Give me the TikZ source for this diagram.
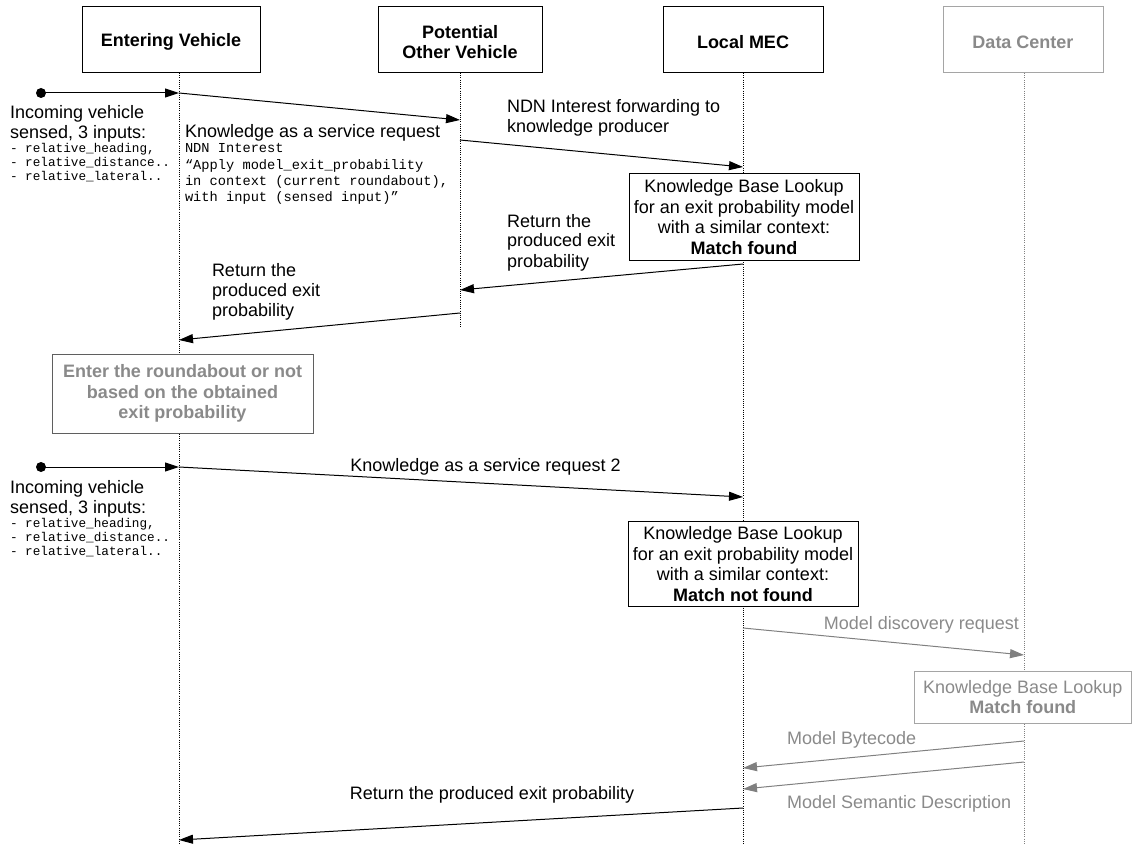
\documentclass[tikz,border=0pt]{standalone}
\usepackage{fontspec}
\setmainfont{Liberation Sans}
\setmonofont{Liberation Mono}
\usetikzlibrary{arrows.meta}
\definecolor{gtext}{RGB}{138,138,138}
\definecolor{gline}{RGB}{128,128,128}
\definecolor{gbox}{RGB}{165,165,165}
\definecolor{rbox}{RGB}{95,95,95}
\begin{document}
\begin{tikzpicture}[x=1pt,y=-1pt,
  every node/.style={inner sep=0pt, outer sep=0pt},
  sans/.style={font=\fontsize{18}{20.5}\selectfont},
  monoS/.style={font=\ttfamily\fontsize{12.7}{14}\selectfont},
  monoL/.style={font=\ttfamily\fontsize{13.7}{16.3}\selectfont},
  head/.style={draw=black, line width=1pt, fill=white, minimum height=66pt},
  headtext/.style={align=center, yshift=-2pt, font=\fontsize{18}{20}\selectfont\bfseries},
  kbbox/.style={draw=black, line width=1pt, fill=white, align=center,
    font=\fontsize{18}{20.5}\selectfont},
  lifeline/.style={line width=1pt, dash pattern=on 1pt off 1.2pt},
  msg/.style={line width=1pt, -{Triangle[length=14pt,width=9pt]}},
  gmsg/.style={msg, draw=gline, color=gline},
  startdot/.style={circle, fill=black, minimum size=10pt}
]
\useasboundingbox (0,0) rectangle (1132,845);

% participants
\node[head, minimum width=178pt, label={[headtext]center:Entering Vehicle}] (ev) at (171,40) {};
\node[head, minimum width=164pt, label={[headtext]center:Potential\\Other Vehicle}] (pov) at (460,40) {};
\node[head, minimum width=160pt, label={[headtext]center:Local MEC}] (mec) at (743,40) {};
\node[head, minimum width=160pt, draw=gbox, label={[headtext, text=gtext]center:Data Center}] (dc) at (1023,40) {};

% lifeline ends
\coordinate (evEnd) at (179,845);
\coordinate (povEnd) at (460,327);
\coordinate (mecEnd) at (743,845);
\coordinate (dcEnd) at (1024,845);
\draw[lifeline] (ev.south -| evEnd) -- (evEnd);
\draw[lifeline] (pov.south -| povEnd) -- (povEnd);
\draw[lifeline] (mec.south -| mecEnd) -- (mecEnd);
\draw[lifeline, draw=gline] (dc.south -| dcEnd) -- (dcEnd);

% boxes on lifelines
\node[kbbox, minimum width=230pt, minimum height=87pt] (kb1) at (744,217)
  {Knowledge Base Lookup\\for an exit probability model\\with a similar context:\\\textbf{Match found}};
\node[kbbox, minimum width=230pt, minimum height=85pt] (kb2) at (743,564)
  {Knowledge Base Lookup\\for an exit probability model\\with a similar context:\\\textbf{Match not found}};
\node[kbbox, draw=gbox, text=gtext, minimum width=217pt, minimum height=52pt] (kb3) at (1022.75,697)
  {Knowledge Base Lookup\\\textbf{Match found}};
\node[kbbox, draw=rbox, text=gtext, font=\fontsize{18}{20.5}\selectfont\bfseries,
  minimum width=261pt, minimum height=79pt] (rb) at (182.5,393.5)
  {Enter the roundabout or not\\based on the obtained\\exit probability};

% message end points
\node[startdot] (d1) at (41,93) {};
\coordinate (m1e) at (179,93);
\coordinate (m2s) at (179,93);
\coordinate (m2e) at (460,120);
\coordinate (m3s) at (460,140);
\coordinate (m3e) at (743,167);
\coordinate (m4s) at (743,264);
\coordinate (m4e) at (460,290);
\coordinate (m5s) at (460,313);
\coordinate (m5e) at (179,340);
\node[startdot] (d2) at (41,467) {};
\coordinate (m6e) at (179,467);
\coordinate (m7s) at (179,467);
\coordinate (m7e) at (743,497);
\coordinate (m8s) at (743,628);
\coordinate (m8e) at (1024,655);
\coordinate (m9s) at (1024,741);
\coordinate (m9e) at (743,768);
\coordinate (m10s) at (1024,762);
\coordinate (m10e) at (743,789);
\coordinate (m11s) at (743,808);
\coordinate (m11e) at (179,840);

\draw[msg] (d1.center) -- (m1e);
\draw[msg] (m2s) -- (m2e);
\draw[msg] (m3s) -- (m3e);
\draw[msg] (m4s) -- (m4e);
\draw[msg] (m5s) -- (m5e);
\draw[msg] (d2.center) -- (m6e);
\draw[msg] (m7s) -- (m7e);
\draw[gmsg] (m8s) -- (m8e);
\draw[gmsg] (m9s) -- (m9e);
\draw[gmsg] (m10s) -- (m10e);
\draw[msg] (m11s) -- (m11e);

% texts block 1
\node[sans, anchor=base west] (a1) at (10,119) {Incoming vehicle};
\node[sans, anchor=base west] (a2) at (10,139) {sensed, 3 inputs:};
\node[monoS, anchor=base west] (a3) at (10,153) {- relative\_heading,};
\node[monoS, anchor=base west] (a4) at (10,167) {- relative\_distance..};
\node[monoS, anchor=base west] (a5) at (10,181) {- relative\_lateral..};

\node[sans, anchor=base west] (b1) at (185,138) {Knowledge as a service request};
\node[monoL, anchor=base west] (b2) at (185,153) {NDN Interest};
\node[monoL, anchor=base west] (b3) at (185,169.3) {“Apply model\_exit\_probability};
\node[monoL, anchor=base west] (b4) at (185,185.6) {in context (current roundabout),};
\node[monoL, anchor=base west] (b5) at (185,202) {with input (sensed input)”};

\node[sans, anchor=base west] (c1) at (507,113) {NDN Interest forwarding to};
\node[sans, anchor=base west] (c2) at (507,133) {knowledge producer};

\node[sans, anchor=base west] (e1) at (507,227) {Return the};
\node[sans, anchor=base west] (e2) at (507,247) {produced exit};
\node[sans, anchor=base west] (e3) at (507,267) {probability};

\node[sans, anchor=base west] (f1) at (212,276) {Return the};
\node[sans, anchor=base west] (f2) at (212,296) {produced exit};
\node[sans, anchor=base west] (f3) at (212,316) {probability};

% block 2
\node[sans, anchor=base west] (g1) at (10,493) {Incoming vehicle};
\node[sans, anchor=base west] (g2) at (10,513) {sensed, 3 inputs:};
\node[monoS, anchor=base west] (g3) at (10,527) {- relative\_heading,};
\node[monoS, anchor=base west] (g4) at (10,541) {- relative\_distance..};
\node[monoS, anchor=base west] (g5) at (10,555) {- relative\_lateral..};

\node[sans, anchor=base] (h1) at (485.5,471) {Knowledge as a service request 2};
\node[sans, anchor=base east, text=gtext] (h2) at (1019,629) {Model discovery request};
\node[sans, anchor=base west, text=gtext] (h3) at (787,744) {Model Bytecode};
\node[sans, anchor=base west, text=gtext] (h4) at (787,808) {Model Semantic Description};
\node[sans, anchor=base] (h5) at (492,799) {Return the produced exit probability};
\end{tikzpicture}
\end{document}
